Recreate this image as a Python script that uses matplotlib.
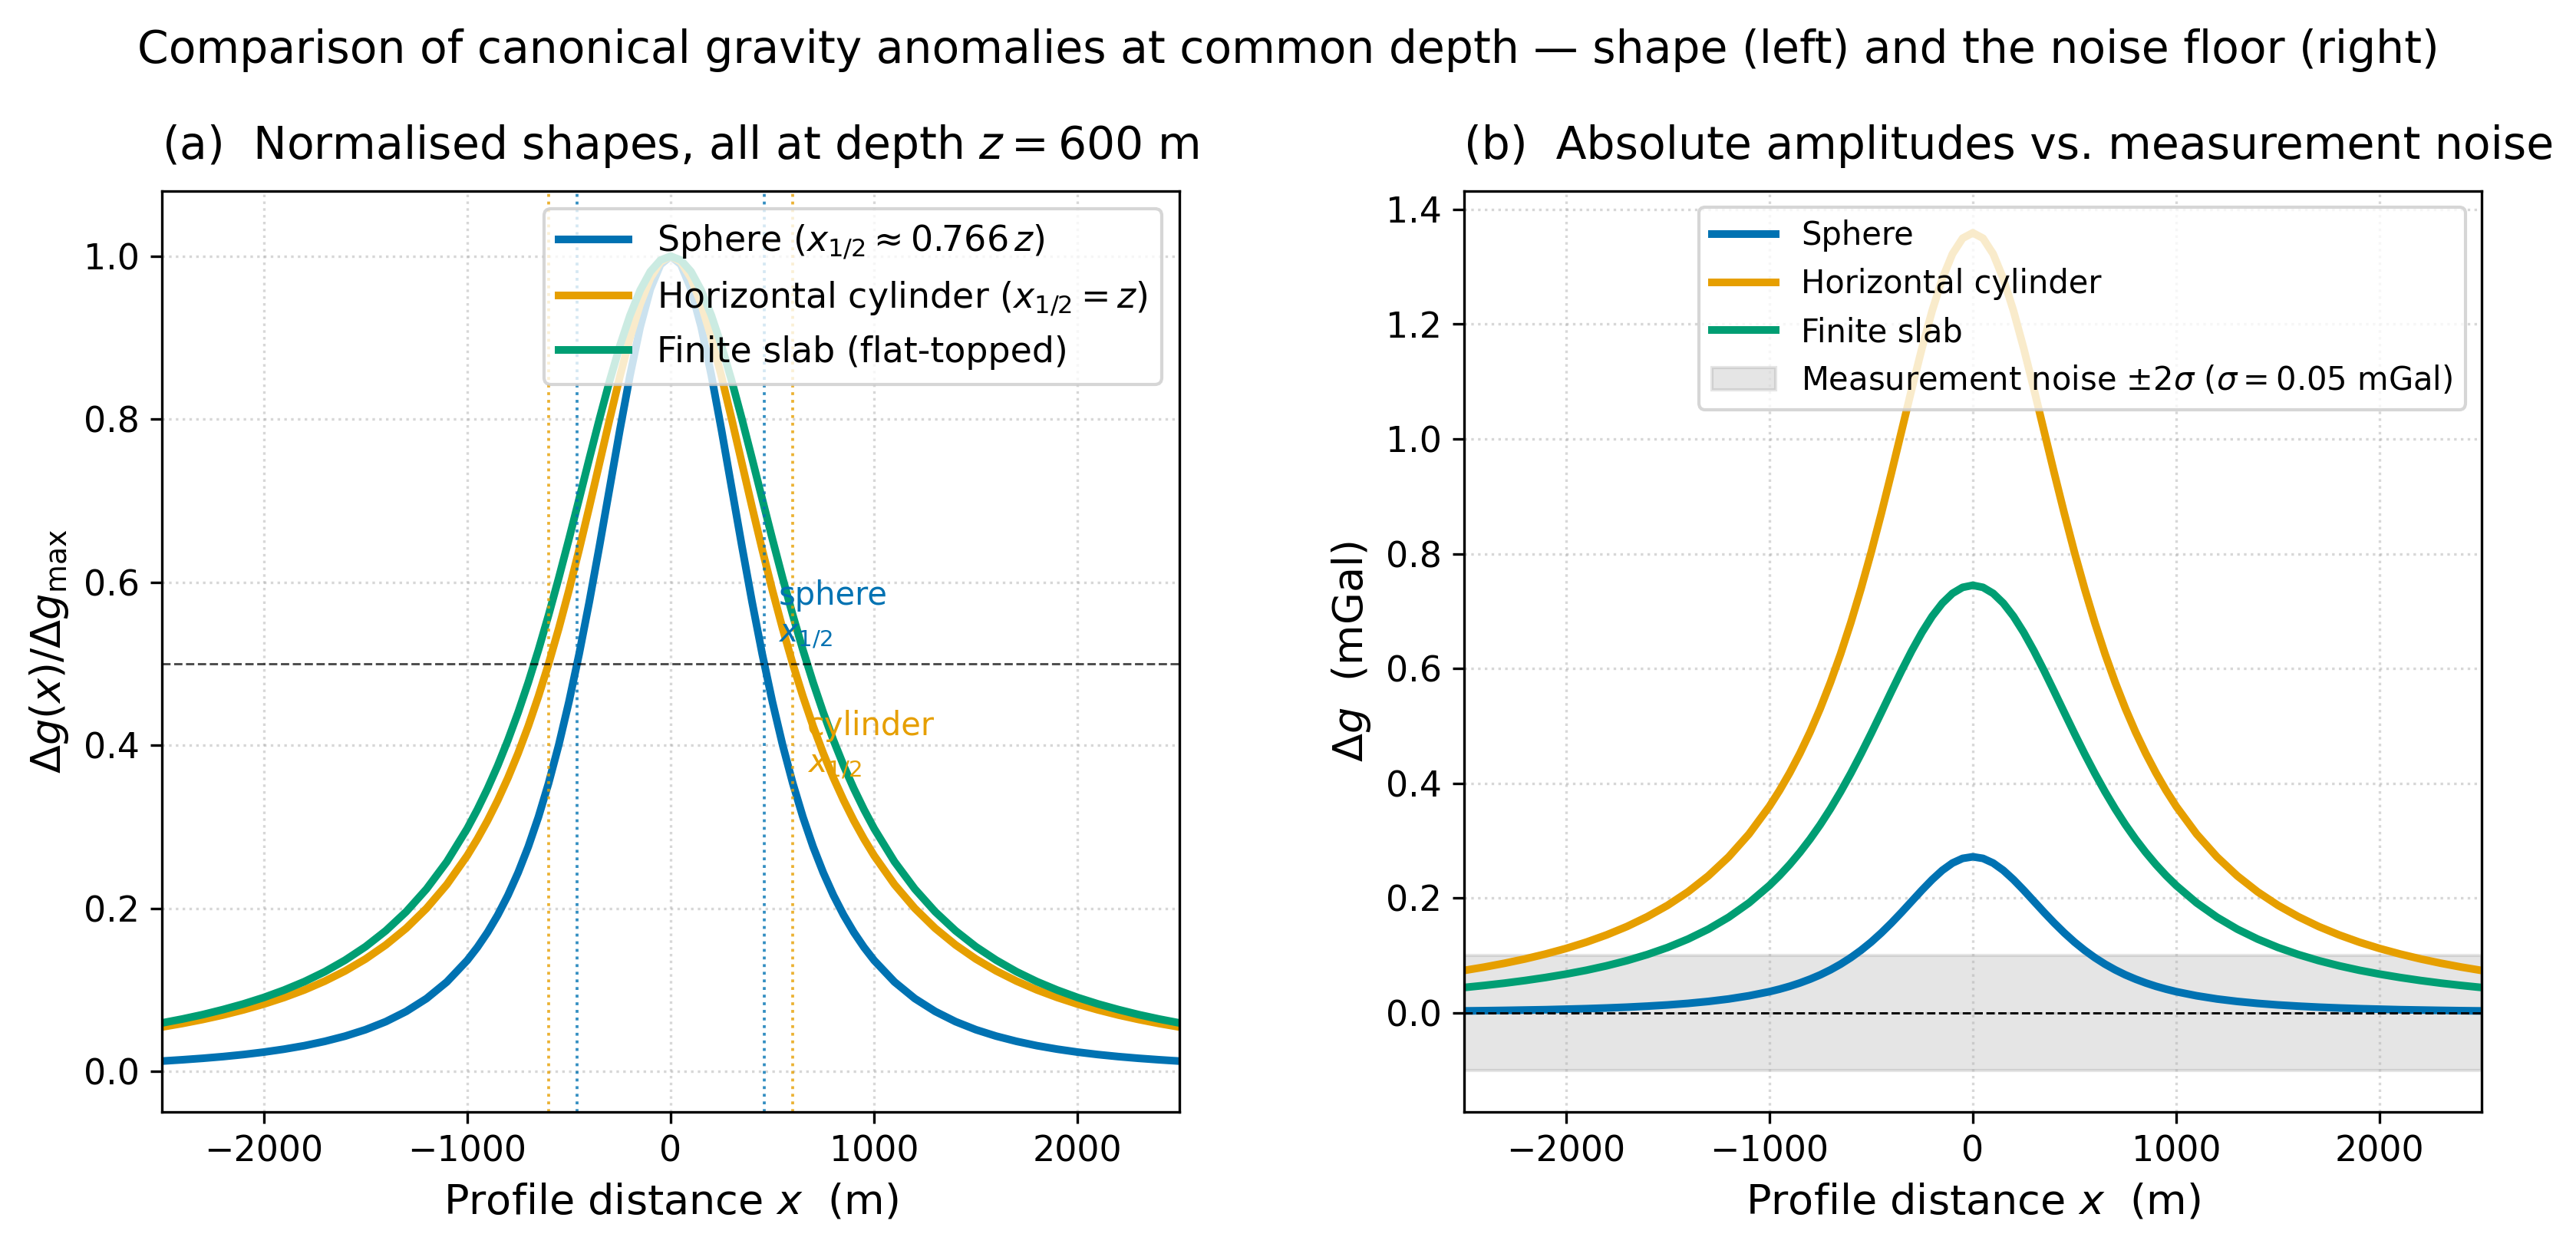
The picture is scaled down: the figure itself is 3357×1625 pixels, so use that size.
import matplotlib
matplotlib.use("Agg")
import matplotlib.pyplot as plt

plt.rcParams['font.size'] = 11

# profile positions (m) and curves
x_m = [-2500, -2400, -2300, -2200, -2100,
       -2000, -1900, -1800, -1700, -1600,
       -1500, -1400, -1300, -1200, -1100,
       -1000, -950, -900, -850, -800,
       -750, -700, -650, -600, -550,
       -500, -450, -400, -350, -300,
       -250, -200, -150, -100, -50,
       0,
       50, 100, 150, 200, 250,
       300, 350, 400, 450, 500,
       550, 600, 650, 700, 750,
       800, 850, 900, 950, 1000,
       1100, 1200, 1300, 1400, 1500,
       1600, 1700, 1800, 1900, 2000,
       2100, 2200, 2300, 2400, 2500]

sphere_norm = [0.0127, 0.0143, 0.0161, 0.0182, 0.0207,
               0.0237, 0.0273, 0.0316, 0.0369, 0.0433,
               0.0512, 0.0611, 0.0736, 0.0894, 0.1098,
               0.1362, 0.1523, 0.1707, 0.1918, 0.2160,
               0.2438, 0.2756, 0.3121, 0.3536, 0.4006,
               0.4534, 0.5120, 0.5760, 0.6445, 0.7155,
               0.7865, 0.8538, 0.9131, 0.9597, 0.9897,
               1.0,
               0.9897, 0.9597, 0.9131, 0.8538, 0.7865,
               0.7155, 0.6445, 0.5760, 0.5120, 0.4534,
               0.4006, 0.3536, 0.3121, 0.2756, 0.2438,
               0.2160, 0.1918, 0.1707, 0.1523, 0.1362,
               0.1098, 0.0894, 0.0736, 0.0611, 0.0512,
               0.0433, 0.0369, 0.0316, 0.0273, 0.0237,
               0.0207, 0.0182, 0.0161, 0.0143, 0.0127]
cyl_norm = [0.0545, 0.0588, 0.0637, 0.0692, 0.0755,
            0.0826, 0.0907, 0.1000, 0.1108, 0.1233,
            0.1379, 0.1552, 0.1756, 0.2000, 0.2293,
            0.2647, 0.2852, 0.3077, 0.3326, 0.3600,
            0.3902, 0.4235, 0.4601, 0.5000, 0.5434,
            0.5902, 0.6400, 0.6923, 0.7461, 0.8000,
            0.8521, 0.9000, 0.9412, 0.9730, 0.9931,
            1.0,
            0.9931, 0.9730, 0.9412, 0.9000, 0.8521,
            0.8000, 0.7461, 0.6923, 0.6400, 0.5902,
            0.5434, 0.5000, 0.4601, 0.4235, 0.3902,
            0.3600, 0.3326, 0.3077, 0.2852, 0.2647,
            0.2293, 0.2000, 0.1756, 0.1552, 0.1379,
            0.1233, 0.1108, 0.1000, 0.0907, 0.0826,
            0.0755, 0.0692, 0.0637, 0.0588, 0.0545]
slab_norm = [0.0595, 0.0643, 0.0697, 0.0759, 0.0828,
             0.0907, 0.0998, 0.1102, 0.1223, 0.1365,
             0.1530, 0.1726, 0.1959, 0.2238, 0.2573,
             0.2979, 0.3213, 0.3470, 0.3752, 0.4063,
             0.4402, 0.4771, 0.5170, 0.5599, 0.6054,
             0.6530, 0.7021, 0.7517, 0.8004, 0.8470,
             0.8898, 0.9273, 0.9581, 0.9811, 0.9952,
             1.0,
             0.9952, 0.9811, 0.9581, 0.9273, 0.8898,
             0.8470, 0.8004, 0.7517, 0.7021, 0.6530,
             0.6054, 0.5599, 0.5170, 0.4771, 0.4402,
             0.4063, 0.3752, 0.3470, 0.3213, 0.2979,
             0.2573, 0.2238, 0.1959, 0.1726, 0.1530,
             0.1365, 0.1223, 0.1102, 0.0998, 0.0907,
             0.0828, 0.0759, 0.0697, 0.0643, 0.0595]

sphere_mgal = [0.0035, 0.0039, 0.0044, 0.0050, 0.0056,
               0.0065, 0.0074, 0.0086, 0.0100, 0.0118,
               0.0139, 0.0166, 0.0200, 0.0243, 0.0299,
               0.0370, 0.0414, 0.0464, 0.0522, 0.0588,
               0.0663, 0.0750, 0.0849, 0.0962, 0.1090,
               0.1233, 0.1393, 0.1567, 0.1753, 0.1946,
               0.2139, 0.2322, 0.2484, 0.2611, 0.2692,
               0.2720,
               0.2692, 0.2611, 0.2484, 0.2322, 0.2139,
               0.1946, 0.1753, 0.1567, 0.1393, 0.1233,
               0.1090, 0.0962, 0.0849, 0.0750, 0.0663,
               0.0588, 0.0522, 0.0464, 0.0414, 0.0370,
               0.0299, 0.0243, 0.0200, 0.0166, 0.0139,
               0.0118, 0.0100, 0.0086, 0.0074, 0.0065,
               0.0056, 0.0050, 0.0044, 0.0039, 0.0035]
cyl_mgal = [0.0740, 0.0799, 0.0866, 0.0941, 0.1026,
            0.1122, 0.1232, 0.1359, 0.1505, 0.1676,
            0.1874, 0.2109, 0.2387, 0.2718, 0.3116,
            0.3597, 0.3875, 0.4182, 0.4520, 0.4892,
            0.5303, 0.5756, 0.6252, 0.6795, 0.7385,
            0.8020, 0.8698, 0.9409, 1.0140, 1.0872,
            1.1580, 1.2231, 1.2791, 1.3223, 1.3496,
            1.3590,
            1.3496, 1.3223, 1.2791, 1.2231, 1.1580,
            1.0872, 1.0140, 0.9409, 0.8698, 0.8020,
            0.7385, 0.6795, 0.6252, 0.5756, 0.5303,
            0.4892, 0.4520, 0.4182, 0.3875, 0.3597,
            0.3116, 0.2718, 0.2387, 0.2109, 0.1874,
            0.1676, 0.1505, 0.1359, 0.1232, 0.1122,
            0.1026, 0.0941, 0.0866, 0.0799, 0.0740]
slab_mgal = [0.0443, 0.0479, 0.0519, 0.0565, 0.0617,
             0.0676, 0.0743, 0.0821, 0.0911, 0.1017,
             0.1140, 0.1286, 0.1459, 0.1667, 0.1917,
             0.2219, 0.2393, 0.2585, 0.2796, 0.3027,
             0.3279, 0.3554, 0.3852, 0.4171, 0.4510,
             0.4865, 0.5231, 0.5600, 0.5963, 0.6310,
             0.6629, 0.6909, 0.7138, 0.7309, 0.7414,
             0.7450,
             0.7414, 0.7309, 0.7138, 0.6909, 0.6629,
             0.6310, 0.5963, 0.5600, 0.5231, 0.4865,
             0.4510, 0.4171, 0.3852, 0.3554, 0.3279,
             0.3027, 0.2796, 0.2585, 0.2393, 0.2219,
             0.1917, 0.1667, 0.1459, 0.1286, 0.1140,
             0.1017, 0.0911, 0.0821, 0.0743, 0.0676,
             0.0617, 0.0565, 0.0519, 0.0479, 0.0443]

x_half_sphere = 459.6   # 0.766 z
x_half_cyl = 600.0      # z
sigma = 0.05            # mGal

C_SPH, C_CYL, C_SLAB = '#0072B2', '#E69F00', '#009E73'

fig, (ax1, ax2) = plt.subplots(1, 2, figsize=(11.19, 5.417), dpi=300)
fig.subplots_adjust(left=0.0629, right=0.9633, bottom=0.1081, top=0.8468, wspace=0.28)

# (a) normalised shapes
ax1.plot(x_m, sphere_norm, color=C_SPH, lw=2.4, label=r'Sphere ($x_{1/2}\approx 0.766\,z$)')
ax1.plot(x_m, cyl_norm, color=C_CYL, lw=2.4, label=r'Horizontal cylinder ($x_{1/2}=z$)')
ax1.plot(x_m, slab_norm, color=C_SLAB, lw=2.4, label='Finite slab (flat-topped)')
ax1.axhline(0.5, color='k', ls='--', lw=0.7, alpha=0.7)
for xv in (-x_half_sphere, x_half_sphere):
    ax1.axvline(xv, color=C_SPH, ls=':', lw=0.9, alpha=0.8)
for xv in (-x_half_cyl, x_half_cyl):
    ax1.axvline(xv, color=C_CYL, ls=':', lw=0.9, alpha=0.8)
ax1.text(x_half_sphere + 70, 0.56, 'sphere\n$x_{1/2}$', color=C_SPH, fontsize=10, va='center')
ax1.text(x_half_cyl + 70, 0.40, 'cylinder\n$x_{1/2}$', color=C_CYL, fontsize=10, va='center')
ax1.set_xlim(-2500, 2500)
ax1.set_ylim(-0.05, 1.08)
ax1.set_xlabel(r'Profile distance $x$  (m)', fontsize=13)
ax1.set_ylabel(r'$\Delta g(x)/\Delta g_{\max}$', fontsize=13)
ax1.set_title(r'(a)  Normalised shapes, all at depth $z = 600$ m', loc='left', fontsize=14, pad=10)
ax1.grid(True, ls=':', alpha=0.5)
ax1.legend(loc='upper right', fontsize=11)

# (b) absolute amplitudes vs noise
ax2.plot(x_m, sphere_mgal, color=C_SPH, lw=2.4, label='Sphere')
ax2.plot(x_m, cyl_mgal, color=C_CYL, lw=2.4, label='Horizontal cylinder')
ax2.plot(x_m, slab_mgal, color=C_SLAB, lw=2.4, label='Finite slab')
ax2.axhspan(-2 * sigma, 2 * sigma, color='0.5', alpha=0.2,
            label=r'Measurement noise $\pm2\sigma$ ($\sigma=0.05$ mGal)')
ax2.axhline(0, color='k', ls='--', lw=0.7)
ax2.set_xlim(-2500, 2500)
ax2.set_xlabel(r'Profile distance $x$  (m)', fontsize=13)
ax2.set_ylabel(r'$\Delta g$  (mGal)', fontsize=13)
ax2.set_title('(b)  Absolute amplitudes vs. measurement noise', loc='left', fontsize=14, pad=10)
ax2.grid(True, ls=':', alpha=0.5)
ax2.legend(loc='upper right', fontsize=10)

fig.suptitle('Comparison of canonical gravity anomalies at common depth \u2014 shape (left) and the noise floor (right)',
             fontsize=14, y=0.977)

fig.savefig('out.png', dpi=300)
